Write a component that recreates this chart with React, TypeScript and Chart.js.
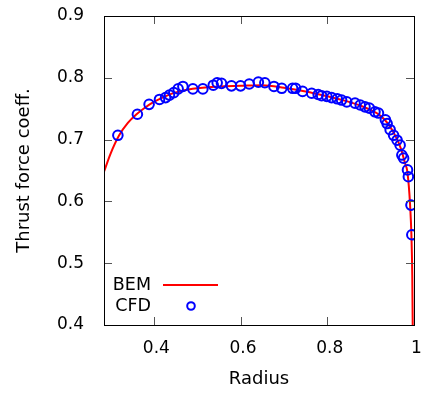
import React, { useEffect, useRef } from "react";
import { Chart, registerables } from "chart.js";

Chart.register(...registerables);

// ---- Data ----
const bemRadius = [0.285, 0.3, 0.32, 0.34, 0.36, 0.38, 0.4, 0.42, 0.44, 0.46, 0.48, 0.5, 0.55, 0.6, 0.65, 0.7, 0.75, 0.8, 0.85, 0.88, 0.9, 0.92, 0.94, 0.96, 0.97, 0.98, 0.984, 0.988, 0.991, 0.994, 0.996, 0.997, 0.9985];
const bemCoeff = [0.648, 0.677, 0.707, 0.727, 0.741, 0.752, 0.761, 0.768, 0.774, 0.778, 0.781, 0.783, 0.786, 0.787, 0.788, 0.784, 0.778, 0.770, 0.761, 0.754, 0.748, 0.740, 0.726, 0.702, 0.685, 0.660, 0.651, 0.625, 0.594, 0.546, 0.48, 0.40, 0.35];

const cfdRadius = [0.317, 0.362, 0.389, 0.413, 0.427, 0.436, 0.446, 0.456, 0.467, 0.49, 0.513, 0.537, 0.546, 0.556, 0.579, 0.6, 0.62, 0.641, 0.656, 0.677, 0.695, 0.72, 0.727, 0.743, 0.764, 0.779, 0.787, 0.799, 0.81, 0.823, 0.833, 0.845, 0.864, 0.876, 0.887, 0.897, 0.91, 0.918, 0.934, 0.938, 0.945, 0.953, 0.961, 0.968, 0.972, 0.976, 0.985, 0.987, 0.993, 0.995];
const cfdCoeff = [0.707, 0.741, 0.757, 0.765, 0.768, 0.772, 0.776, 0.782, 0.786, 0.782, 0.782, 0.788, 0.792, 0.791, 0.787, 0.787, 0.79, 0.793, 0.792, 0.786, 0.783, 0.783, 0.783, 0.778, 0.775, 0.773, 0.771, 0.77, 0.768, 0.766, 0.764, 0.761, 0.759, 0.756, 0.753, 0.751, 0.745, 0.743, 0.732, 0.726, 0.716, 0.707, 0.699, 0.691, 0.675, 0.67, 0.651, 0.64, 0.594, 0.546];

const xTicks = [0.4, 0.6, 0.8, 1.0];
const xTickLabels = ["0.4", "0.6", "0.8", "1"];
const yTicks = [0.4, 0.5, 0.6, 0.7, 0.8, 0.9];
const yTickLabels = ["0.4", "0.5", "0.6", "0.7", "0.8", "0.9"];
const xTitle = "Radius";
const yTitle = "Thrust force coeff.";
const legendNames = ["BEM", "CFD"];

const LEGEND_FONT = "17.5px 'DejaVu Sans'";
const TITLE_FONT = "18px 'DejaVu Sans'";

const framePlugin = {
  id: "gnuframe",
  afterDatasetsDraw(chart: any) {
    const { ctx, chartArea: a, scales } = chart;
    ctx.save();
    // inward ticks (mirrored)
    ctx.strokeStyle = "#555";
    ctx.lineWidth = 1;
    ctx.beginPath();
    xTicks.forEach((v) => {
      const px = Math.round(scales.x.getPixelForValue(v)) + 0.5;
      ctx.moveTo(px, a.bottom);
      ctx.lineTo(px, a.bottom - 8);
      ctx.moveTo(px, a.top);
      ctx.lineTo(px, a.top + 8);
    });
    yTicks.forEach((v) => {
      const py = Math.round(scales.y.getPixelForValue(v)) + 0.5;
      ctx.moveTo(a.left, py);
      ctx.lineTo(a.left + 8, py);
      ctx.moveTo(a.right, py);
      ctx.lineTo(a.right - 8, py);
    });
    ctx.stroke();
    // frame
    ctx.strokeStyle = "#000";
    ctx.lineWidth = 1;
    ctx.strokeRect(Math.round(a.left) + 0.5, Math.round(a.top) + 0.5, Math.round(a.right - a.left), Math.round(a.bottom - a.top));

    // legend
    ctx.font = LEGEND_FONT;
    ctx.fillStyle = "#000";
    ctx.textAlign = "right";
    ctx.textBaseline = "middle";
    const lx = a.left + 47;
    const ly1 = a.bottom - 40;
    const ly2 = a.bottom - 19;
    ctx.fillText(legendNames[0], lx, ly1);
    ctx.fillText(legendNames[1], lx, ly2);
    ctx.strokeStyle = "#ff0000";
    ctx.lineWidth = 2;
    ctx.beginPath();
    ctx.moveTo(a.left + 59, ly1);
    ctx.lineTo(a.left + 114, ly1);
    ctx.stroke();
    ctx.strokeStyle = "#0000ff";
    ctx.beginPath();
    ctx.arc(a.left + 87, ly2, 3.8, 0, Math.PI * 2);
    ctx.stroke();

    // axis titles
    ctx.font = TITLE_FONT;
    ctx.fillStyle = "#000";
    ctx.textAlign = "center";
    ctx.textBaseline = "middle";
    ctx.fillText(xTitle, (a.left + a.right) / 2, 379);
    ctx.save();
    ctx.translate(24, (a.top + a.bottom) / 2);
    ctx.rotate(-Math.PI / 2);
    ctx.fillText(yTitle, 0, 0);
    ctx.restore();
    ctx.restore();
  },
};

function zeroPad(s: any) {
  s.paddingTop = 0;
  s.paddingBottom = 0;
  s.paddingLeft = 0;
  s.paddingRight = 0;
}

export default function App() {
  const ref = useRef<HTMLCanvasElement | null>(null);
  useEffect(() => {
    if (!ref.current) return;
    const chart = new Chart(ref.current, {
      type: "scatter",
      data: {
        datasets: [
          {
            label: legendNames[1],
            data: cfdRadius.map((r, i) => ({ x: r, y: cfdCoeff[i] })),
            showLine: false,
            pointRadius: 4.8,
            pointStyle: "circle",
            borderColor: "#0000ff",
            backgroundColor: "rgba(0,0,0,0)",
            pointBorderWidth: 2,
            order: 1,
          },
          {
            label: legendNames[0],
            data: bemRadius.map((r, i) => ({ x: r, y: bemCoeff[i] })),
            showLine: true,
            pointRadius: 0,
            borderColor: "#ff0000",
            borderWidth: 2,
            cubicInterpolationMode: "monotone",
            order: 2,
          },
        ],
      },
      options: {
        animation: false,
        responsive: false,
        maintainAspectRatio: false,
        layout: { padding: { top: 16, right: 8, left: 0, bottom: 0 } },
        plugins: {
          legend: { display: false },
          tooltip: { enabled: false },
        },
        scales: {
          x: {
            type: "linear",
            min: 0.285,
            max: 1.0,
            grid: { display: false },
            border: { display: false },
            afterBuildTicks: (s: any) => {
              s.ticks = xTicks.map((v) => ({ value: v }));
            },
            afterFit: (s: any) => {
              s.height = 68;
              zeroPad(s);
            },
            ticks: {
              autoSkip: false,
              maxRotation: 0,
              padding: 5,
              labelOffset: 2.5,
              color: "#000",
              font: { family: "DejaVu Sans", size: 17 },
              callback: (v: any) => {
                const i = xTicks.findIndex((t) => Math.abs(t - Number(v)) < 1e-6);
                return i >= 0 ? xTickLabels[i] : "";
              },
            },
          },
          y: {
            type: "linear",
            min: 0.4,
            max: 0.9,
            grid: { display: false },
            border: { display: false },
            afterBuildTicks: (s: any) => {
              s.ticks = yTicks.map((v) => ({ value: v }));
            },
            afterFit: (s: any) => {
              s.width = 104;
              zeroPad(s);
            },
            ticks: {
              autoSkip: false,
              padding: 12,
              color: "#000",
              font: { family: "DejaVu Sans", size: 17 },
              callback: (v: any) => {
                const i = yTicks.findIndex((t) => Math.abs(t - Number(v)) < 1e-6);
                return i >= 0 ? yTickLabels[i] : "";
              },
            },
          },
        },
      },
      plugins: [framePlugin],
    } as any);
    return () => chart.destroy();
  }, []);
  return (
    <div style={{ position: "fixed", left: 0, top: 0, width: 422, height: 393, background: "#fff" }}>
      <canvas ref={ref} width={422} height={393} style={{ display: "block" }} />
    </div>
  );
}
